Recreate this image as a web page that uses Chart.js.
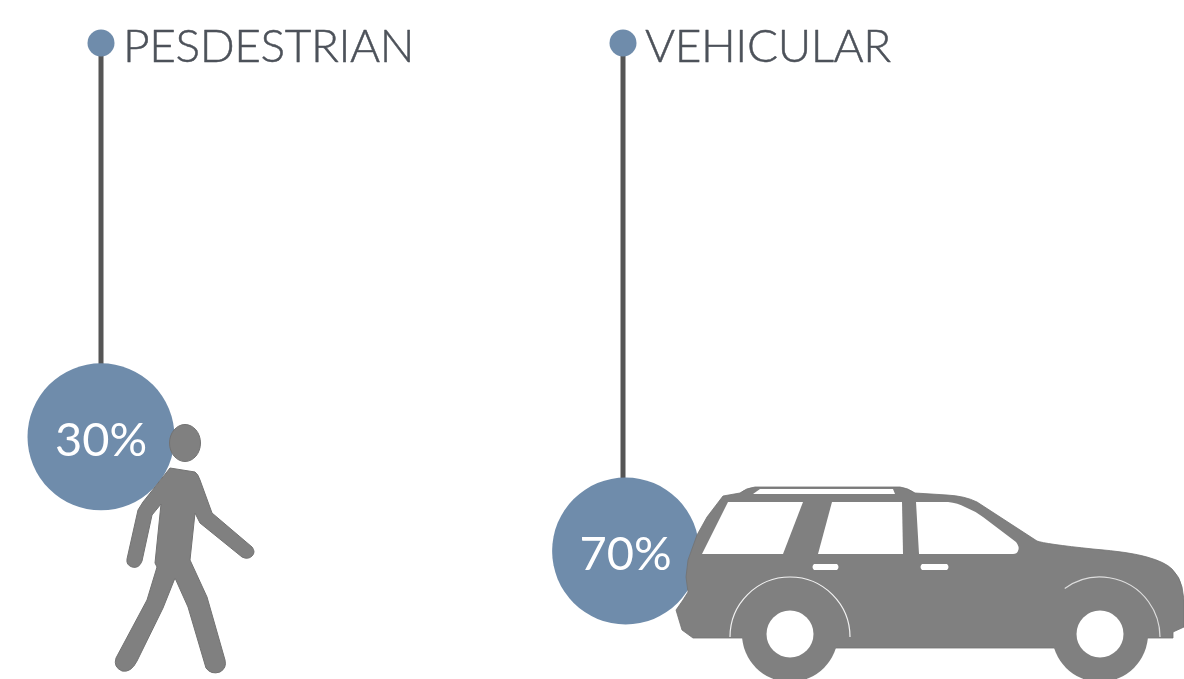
<!DOCTYPE html>
<html>
<head>
<meta charset="utf-8">
<title>Pedestrian and vehicular</title>
<script src="https://cdn.jsdelivr.net/npm/chart.js@4"></script>
<style>
  html, body { margin: 0; padding: 0; background: #fff; overflow: hidden; }
  #wrap { width: 1184px; height: 679px; }
</style>
</head>
<body>
<div id="wrap"><canvas id="chart" width="1184" height="679"></canvas></div>
<script>
const categories = ["PESDESTRIAN", "VEHICULAR"];
const shares = [30, 70];
// the stems all start from this level on the value axis
const stemTop = [-108, -108];

const BLUE = "#6f8cab";
const STEM = "#555555";
const ICON = "#808080";
const TEXT = "#4d525a";

// outlines
const personBody = "M170 468 L195 472 Q198 474 200 480 L212 513 L252 547 Q256 552 252 556 Q248 560 242 557 L200 523 L195 513 L190 560 L207 597 L225 660 Q227 668 220 672 Q211 675 206 668 L188 607 L175 578 L163 608 L137 661 Q131 673 122 671 Q113 667 116 658 L147 600 L157 567 L155 563 L161 504 L152 515 L142 561 Q139 569 132 567 Q126 565 127 559 L138 510 L143 502 Z";
const carBody = "M676 610 L683 600 L688 592 L686 577 L688 560 L697 535 L707 517 L723 496 L740 493 Q746 488 755 487 L900 487 Q908 488 915 493 L947 495 Q965 496 977 502 L1037 541 Q1045 544 1093 549 Q1130 552 1147 557 Q1165 562 1172 569 Q1180 577 1182 587 L1184 600 L1184 627 L1173 632 L1173 638 L1149 638 L1060 638 L1060 648 L820 648 L820 638 L693 638 L682 630 Z";
const carWindows = [
  "M728 502 L803 502 L783 554 L702 554 Z",
  "M832 502 L902 502 L903 554 L818 554 Z",
  "M916 502 L948 502 Q958 503 965 507 Q975 511 983 517 L1016 542 Q1020 547 1018 551 Q1017 554 1013 554 L919 554 Z",
  "M760 489 L893 489 L895 494 L753 494 Z",
  "M814 564 L837 564 Q840 567 837 570 L814 570 Q811 567 814 564 Z",
  "M922 564 L947 564 Q950 567 947 570 L922 570 Q919 567 922 564 Z"
];
const wheels = [[790, 634], [1100, 634]];

const iconsAndLabels = {
  id: "iconsAndLabels",
  afterDatasetsDraw(chart) {
    const ctx = chart.ctx;
    const x = chart.scales.x;
    const y = chart.scales.y;
    ctx.save();

    // walking person
    ctx.fillStyle = ICON;
    ctx.strokeStyle = "#727272";
    ctx.lineWidth = 1;
    ctx.lineJoin = "round";
    const body = new Path2D(personBody);
    ctx.fill(body);
    ctx.stroke(body);
    ctx.beginPath();
    ctx.ellipse(185, 443, 15.5, 18.5, 0, 0, Math.PI * 2);
    ctx.fill();
    ctx.stroke();

    // car
    ctx.fillStyle = ICON;
    const car = new Path2D(carBody);
    ctx.fill(car);
    ctx.lineWidth = 0.8;
    ctx.stroke(car);
    wheels.forEach(w => {
      ctx.fillStyle = ICON;
      ctx.beginPath();
      ctx.arc(w[0], w[1], 48, 0, Math.PI * 2);
      ctx.fill();
    });
    ctx.fillStyle = "#fff";
    wheels.forEach(w => {
      ctx.beginPath();
      ctx.arc(w[0], w[1], 23.5, 0, Math.PI * 2);
      ctx.fill();
    });
    carWindows.forEach(d => ctx.fill(new Path2D(d)));
    ctx.strokeStyle = "#f2f2f2";
    ctx.lineWidth = 1.2;
    ctx.beginPath();
    ctx.arc(790, 637, 60, Math.PI, Math.PI * 2);
    ctx.stroke();
    ctx.strokeStyle = "#dddddd";
    ctx.beginPath();
    ctx.arc(1100, 637, 60, Math.PI * 1.3, Math.PI * 2);
    ctx.stroke();

    // header labels next to the small dots
    ctx.fillStyle = TEXT;
    ctx.strokeStyle = TEXT;
    ctx.lineWidth = 0.5;
    ctx.textBaseline = "alphabetic";
    ctx.textAlign = "left";
    ctx.font = "300 46px Lato";
    ctx.letterSpacing = "-0.4px";
    categories.forEach((c, i) => {
      const tx = x.getPixelForValue(i) + 22;
      const ty = y.getPixelForValue(stemTop[i]) + 19;
      ctx.fillText(c, tx, ty);
      ctx.strokeText(c, tx, ty);
    });

    // values inside the big circles
    const big = chart.getDatasetMeta(1).data;
    ctx.fillStyle = "#fff";
    ctx.textAlign = "center";
    ctx.letterSpacing = "0px";
    ctx.font = "400 47px Lato";
    shares.forEach((v, i) => {
      ctx.fillText(v + "%", big[i].x, big[i].y + 19);
    });
    ctx.restore();
  }
};

const stems = categories.map((c, i) => ({
  type: "line",
  data: [{ x: c, y: stemTop[i] }, { x: c, y: shares[i] }],
  borderColor: STEM,
  borderWidth: 5,
  pointRadius: 0,
  clip: false,
  order: 3
}));

new Chart(document.getElementById("chart"), {
  data: {
    labels: categories,
    datasets: [
      {
        type: "line",
        data: stemTop,
        showLine: false,
        pointRadius: 13.5,
        pointBackgroundColor: BLUE,
        pointBorderWidth: 0,
        clip: false,
        order: 1
      },
      {
        type: "line",
        xAxisID: "xBig",
        data: shares.map((v, i) => ({ x: i, y: v })),
        showLine: false,
        pointRadius: 73.5,
        pointBackgroundColor: BLUE,
        pointBorderWidth: 0,
        clip: false,
        order: 2
      },
      ...stems
    ]
  },
  options: {
    responsive: false,
    animation: false,
    layout: { autoPadding: false, padding: { left: 101, right: 561, top: 43, bottom: 128 } },
    plugins: { legend: { display: false }, tooltip: { enabled: false } },
    scales: {
      x: { type: "category", offset: false, display: false },
      xBig: { type: "linear", min: 0, max: 0.995, display: false },
      y: { type: "linear", reverse: true, min: -108, max: 70, display: false }
    }
  },
  plugins: [iconsAndLabels]
});
</script>
</body>
</html>
